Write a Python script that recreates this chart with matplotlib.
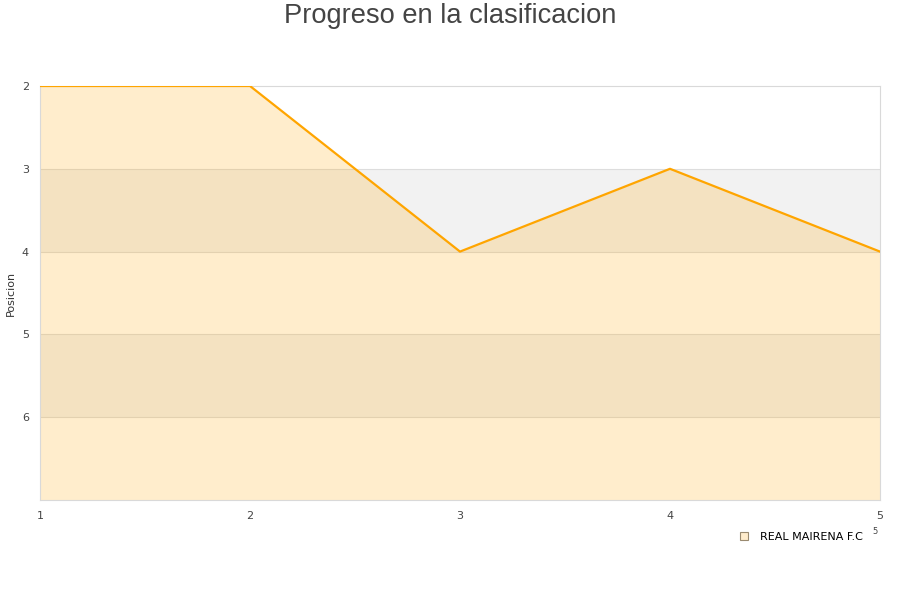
import matplotlib
matplotlib.use("Agg")
import matplotlib.pyplot as plt
from matplotlib.lines import Line2D

# Datos
jornadas = [1, 2, 3, 4, 5]
posicion = [2, 2, 4, 3, 4]
equipo = "REAL MAIRENA F.C"
y_ticks = [2, 3, 4, 5, 6]

fig = plt.figure(figsize=(9, 6), dpi=100)
ax = fig.add_axes([40 / 900, 100 / 600, 840 / 900, 414 / 600])

# Bandas alternas
for lo in (3, 5):
    ax.axhspan(lo, lo + 1, color="#f2f2f2", zorder=0, lw=0)
for y in [3, 4, 5, 6]:
    ax.axhline(y, color="#dddddd", lw=0.8, zorder=1)

ax.fill_between(jornadas, posicion, 7, color="#ffa500", alpha=0.2, lw=0, zorder=2)
ax.plot(jornadas, posicion, color="#ffa500", lw=1.6, zorder=3)

ax.set_xlim(1, 5)
ax.set_ylim(7, 2)
ax.set_xticks(jornadas)
ax.set_yticks(y_ticks)
ax.tick_params(length=0, labelsize=8, colors="#444444", pad=8)
for s in ax.spines.values():
    s.set_color("#d9d9d9")
ax.set_ylabel("Posicion", fontsize=8, color="#333333", labelpad=4)

fig.text(0.5, 1 - 16 / 600, "Progreso en la clasificacion", ha="center", va="center",
         fontsize=19.6, color="#444444", family="Liberation Sans")

handle = Line2D([], [], marker="s", ls="none", markersize=6,
                markerfacecolor="#ffeccc", markeredgecolor="#9a8a70", markeredgewidth=0.8)
fig.legend([handle], [equipo], loc="center right", bbox_to_anchor=(867 / 900, 1 - 537 / 600),
           frameon=False, fontsize=8, handletextpad=0.4, borderaxespad=0)
fig.text(875 / 900, 1 - 532 / 600, "5", fontsize=6, color="#444444", ha="center", va="center")

fig.savefig("out.png", dpi=100)
